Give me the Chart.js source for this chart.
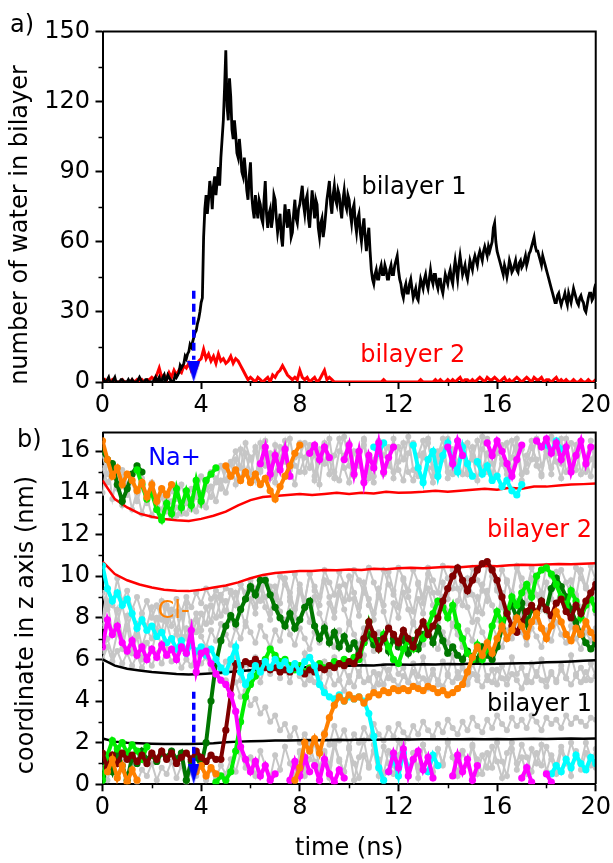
<!DOCTYPE html>
<html>
<head>
<meta charset="utf-8">
<script src="https://cdn.jsdelivr.net/npm/chart.js@4.4.1/dist/chart.umd.min.js"></script>
<style>
  html, body { margin: 0; padding: 0; background: #fff; }
  #page { position: relative; width: 613px; height: 863px; overflow: hidden; }
  #boxA { position: absolute; left: 0; top: 0; width: 613px; height: 425px; }
  #boxB { position: absolute; left: 0; top: 400px; width: 613px; height: 463px; }
</style>
</head>
<body>
<div id="page">
  <div id="boxA"><canvas id="waterChart"></canvas></div>
  <div id="boxB"><canvas id="zChart"></canvas></div>
</div>
<script>
// ---------------- Panel a: water molecules inside each bilayer ----------------
// bilayer 1 sampled every 0.05 ns
const WATER1_STEP = 0.05;
const bilayer1Water = [
  0,1,0,0,1,2,0,0,0,1,2,0,0,0,0,1,1,0,0,0,0,1,0,0,1,0,0,0,0,1,2,1,0,0,0,1,1,0,0,0,0,
  0,1,2,0,1,2,0,0,2,3,0,1,3,2,1,0,0,1,3,2,
  3,4,7,6,7,8,11,10,12,13,16,15,17,19,21,22,25,27,30,34,
  36,62,74,80,72,78,86,82,74,84,88,80,86,92,84,96,104,112,126,142,
  118,112,130,122,108,104,112,106,98,96,104,98,90,88,96,90,82,78,88,94,
  80,74,70,80,74,70,78,76,70,68,78,86,72,66,72,74,66,70,80,78,
  70,64,68,72,62,58,68,76,70,66,74,70,62,64,72,78,70,68,74,76,
  80,84,76,72,78,80,70,66,74,82,76,70,78,76,66,62,68,70,62,66,
  72,78,82,86,76,72,80,84,78,76,82,80,74,70,78,82,76,74,80,78,
  72,68,74,76,68,64,70,72,64,60,66,70,62,56,62,66,56,48,44,42,
  46,48,44,44,48,50,46,46,50,48,44,44,48,50,46,46,50,52,54,48,
  44,42,38,36,40,42,38,38,42,44,40,36,38,40,36,35,40,44,42,40,
  44,46,42,40,44,48,44,42,46,46,42,40,44,44,40,38,42,46,44,42,
  46,48,44,42,48,52,48,44,50,54,50,46,48,50,46,44,48,52,50,48,
  52,54,52,50,54,56,54,52,56,58,56,54,58,56,58,60,66,68,60,56,
  54,52,50,48,46,50,48,45,48,52,50,47,48,50,52,48,47,51,52,49,
  50,52,54,50,52,55,56,58,60,62,58,56,56,54,52,50,54,52,50,48,
  46,44,42,40,38,36,34,34,37,38,35,33,35,36,38,35,33,38,36,34,
  37,40,38,36,34,33,36,37,35,34,31,30,33,36,38,38,35,36,40,42
];
// bilayer 2 sampled every 0.1 ns
const WATER2_STEP = 0.1;
const bilayer2Water = [
  0,1,0,0,1,0,0,0,1,0,0,0,1,0,1,0,1,0,1,1,2,
  1,3,6,2,3,1,4,2,5,3,
  5,4,7,6,8,5,7,6,9,10,
  14,10,12,9,11,8,12,9,10,8,
  9,11,8,10,9,7,5,3,1,2,
  1,0,2,1,0,1,2,0,3,2,
  4,5,7,5,3,2,1,2,1,5,
  2,1,2,0,1,2,0,1,3,5,
  1,2,1,0,0,0,0,0,0,0,
  0,0,0,0,0,0,0,0,0,0,
  0,0,0,1,0,0,0,0,0,0,
  0,0,0,0,0,0,0,0,1,0,
  0,0,0,0,1,0,1,0,0,1,
  0,1,0,1,2,0,1,1,0,1,
  0,1,2,1,0,2,1,1,2,1,
  0,1,2,0,1,0,1,2,1,0,
  1,2,1,0,2,1,1,2,0,1,
  1,0,1,2,0,1,0,1,0,0,
  1,0,0,1,0,0,1,0,0,1
];
// Na+ entry marker (time, dashed span, head centre)
const naEntryTime = 3.7;
const waterArrowSpan = [39, 9.5];
const waterArrowHead = 4.5;

// ---------------- Panel b: z coordinate of bilayer surfaces and ions ----------------
// Bilayer surfaces, 0.5 ns sampling
const SURF_STEP = 0.5;
const bilayer2Upper = [14.6,13.7,13.3,13.0,12.85,12.75,12.68,12.65,12.75,12.9,13.1,13.4,13.65,13.8,13.85,13.9,13.95,13.9,13.95,14.0,13.95,14.0,13.97,14.05,14.0,14.02,14.05,14.1,14.05,14.1,14.15,14.2,14.15,14.25,14.2,14.3,14.3,14.35,14.4,14.42,14.45];
const bilayer2Lower = [10.7,10.1,9.8,9.6,9.45,9.35,9.3,9.28,9.35,9.45,9.55,9.7,9.9,10.05,10.15,10.2,10.25,10.25,10.3,10.28,10.32,10.3,10.35,10.33,10.38,10.4,10.38,10.42,10.45,10.43,10.48,10.5,10.48,10.52,10.55,10.53,10.56,10.58,10.57,10.6,10.62];
const bilayer1Upper = [6.0,5.7,5.55,5.47,5.4,5.35,5.3,5.28,5.3,5.33,5.38,5.43,5.48,5.52,5.56,5.58,5.62,5.63,5.66,5.68,5.7,5.72,5.71,5.75,5.76,5.74,5.77,5.75,5.78,5.77,5.8,5.78,5.79,5.8,5.82,5.83,5.86,5.88,5.9,5.93,5.96];
const bilayer1Lower = [2.2,2.05,2.0,1.97,1.95,1.94,1.93,1.94,1.95,1.97,2.02,2.05,2.07,2.08,2.1,2.1,2.12,2.13,2.12,2.14,2.13,2.15,2.14,2.15,2.16,2.15,2.17,2.16,2.17,2.16,2.18,2.17,2.18,2.17,2.18,2.19,2.18,2.19,2.2,2.19,2.2];

// Ion trajectories, 0.2 ns sampling; each entry is [start time, values]
const ION_STEP = 0.2;
const orangeNa = [
  [0, [16.5,15.6,14.8,15.2,14.4,14.9,14.6,14.1,14.5,13.8,14.4,13.6,14.2,13.9,14.4]],
  [5.0, [15.3,14.8,15.1,14.6,15.0,14.5,14.9,14.4,14.7,14.1,13.7,14.3,14.8,15.3,15.9,16.3]]
];
const orangeCl = [
  [0.2, [0.6,1.2,0.3,0.9,0.1,0.7,0.2]],
  [3.8, [0.6,0.9,0.4,0.8,0.5]],
  [7.8, [0.2,0.8,2.0,1.6,2.2,1.5,2.4,3.2,3.8,4.2,4.0,4.3,4.1,4.2,3.9,4.2,4.4,4.3,4.5,4.4,
         4.6,4.5,4.6,4.5,4.7,4.6,4.5,4.7,4.6,4.4,4.5,4.3,4.4,4.6,4.8,5.4,6.1,6.6,6.2,6.8,
         6.3,7.0,7.6,7.0,7.4,8.0,7.6,7.1,7.8,8.2,7.5,7.0,7.6,8.3,7.8,7.2,6.9,7.5,7.2,7.8,7.3,7.0]]
];
const magentaNa = [
  [6.4, [15.4,16.2,14.9,15.8,15.1,16.1,14.8]],
  [8.4, [15.9,16.3,15.6,16.2,15.7]],
  [9.8, [15.6,16.3,14.9,16.0,14.5,15.8,15.2,16.4,15.0,15.7,16.2]],
  [14.0, [16.2,15.4,16.5,15.8]],
  [15.6, [16.4,15.8,16.5,16.0,15.4,14.8,15.6,16.3]],
  [17.6, [16.5,16.2,16.6,15.9,16.4,15.6,16.2,15.0,15.8,16.5,15.4,16.2]]
];
const magentaCl = [
  [0, [6.6,7.9,7.2,7.6,6.8,6.4,6.9,6.2,6.6,6.0,6.5,6.1,6.7,6.2,6.5,6.0,6.6,6.3,7.4,5.4,
       6.3,6.4,5.8,5.3,5.0,4.8,4.3,3.5,1.8,1.2,0.6,1.1,0.4,0.9,0.2,0.5]],
  [7.6, [0.2,1.1,0.4,1.3,0.6]],
  [8.6, [0.9,0.2,1.2,0.5,0.1,0.7,0.3]],
  [11.6, [0.6,1.5,0.8,1.7,0.4,1.2,1.6,0.7,1.3,0.3]],
  [14.2, [0.4,1.4,0.6,1.2,0.2,0.9]],
  [17.0, [0.3,0.8,0.1]],
  [18.0, [0.5,0.1]]
];
const cyanNa = [
  [11.0, [16.2,15.9,16.4]],
  [12.6, [16.3,15.2,14.5,15.6,16.0,14.8,15.8,16.4,15.5,15.0,16.2,15.4,14.8]],
  [15.2, [15.5,14.9,15.3,14.6,14.8,14.3,14.6,14.1,13.9,14.4]],
  [18.0, [16.3,16.0,16.5,16.1]]
];
const cyanCl = [
  [0, [10.5,9.4,8.8,9.2,8.6,8.9,8.2,7.5,7.9,7.4,7.6,7.1,7.3,6.8,7.0,6.5,6.9,6.3,6.7,6.4,
       6.6,6.2,6.5,6.0,5.6,5.4,6.0,6.6,5.4,4.8,5.2,5.7,5.4,5.9,5.6,6.0,5.7,5.9,5.5,5.8,
       5.4,5.9,6.1,5.7,4.8,4.4,4.2,4.1,4.3,4.0,4.2,4.1,4.2,4.0,3.4,2.3,0.8,0.2]],
  [11.6, [0.6,1.3,0.4,1.5,0.8]],
  [13.2, [0.6,1.4,0.9]],
  [18.2, [0.5,0.9,0.6,1.2,0.8,1.4,1.0,0.7,1.3,1.0]]
];
const darkGreenNa = [
  [0, [16.0,15.6,15.4,14.4,13.6,14.2,14.9,15.3,15.0]]
];
const darkGreenCl = [
  [0, [0.4,1.2,0.6,1.5,0.9,0.2,1.3,1.0,1.6,1.2,1.4,1.1,1.5,1.3,1.6,1.2,1.5,0.2,1.1,1.3,
       0.9,2.0,4.0,5.8,6.9,7.6,8.1,7.7,8.4,8.9,9.5,9.1,9.8,9.8,9.1,8.5,8.0,7.6,8.2,7.5,
       7.9,8.5,8.8,7.6,7.0,7.5,6.8,7.3,6.6,7.1,6.5,6.8,6.3,6.8,7.2,6.7,6.9,7.1,6.4,7.0,
       6.6,7.0,6.3,6.9,6.5,7.2,7.4,6.8,7.5,6.9,6.3,6.6,6.2,6.0,6.4,6.1,6.0,6.6,6.2,6.0,
       6.6,7.5,8.3,8.6,8.0,8.7,7.7,8.4,8.2,8.8,8.4,9.4,9.9,9.5,9.0,8.4,7.8,7.2,6.8,6.5,6.8]]
];
const greenNa = [
  [1.4, [15.1,14.4,13.7,14.0,13.2,12.7,13.5,13.0,14.2,13.3,14.1,13.4,14.6,13.6,14.6,14.9,15.2]]
];
const greenCl = [
  [0, [0.2,1.4,2.1,1.7,2.0,1.5,1.9,1.6,1.2,1.8]],
  [4.6, [0.1,0.4,0.2,0.6,1.6,3.0,4.2,4.8,5.2,5.7,6.0,6.5,6.2,5.9,6.0,5.7,5.5,5.7,5.4,5.6,
         5.5,5.8,5.6,5.7,5.9,5.8,6.0,5.9,6.1,6.0,6.8,7.8,7.0,6.5,7.2,6.6,6.0,5.8,6.5,6.9,
         6.5,7.3,7.0,7.6,8.2,8.8,8.5,8.0,8.6,7.6,7.0,6.3,6.0,6.7,6.0,6.5,7.6,8.3,7.8,8.2,
         9.0,8.6,9.2,9.6,9.0,10.0,10.3,10.4,10.1,9.6,9.0,8.5,9.3,8.8,8.0,8.6,8.9,8.4]]
];
const maroonCl = [
  [0, [1.5,0.8,1.4,1.0,1.5,1.2,1.4,1.1,1.4,1.0,1.5,1.2,1.6,1.2,1.5,1.0,1.3,1.5,1.2,1.6,
       1.3,1.1,1.4,1.2,
       1.2,2.6,4.3,5.8,5.7,5.9,5.8,6.0,5.8,5.6,5.5,5.6,5.4,5.5,5.4,5.6,5.5,5.3,5.5,5.4,
       5.6,5.5,5.7,5.6,5.8,5.7,5.9,5.8,6.2,7.0,7.8,7.2,6.5,7.0,7.5,7.2,6.8,7.4,7.0,6.6,
       7.3,7.8,7.2,7.6,8.0,8.8,9.4,10.0,10.4,9.8,9.3,9.8,10.3,10.6,10.7,10.3,9.8,9.0,8.2,7.6,
       7.3,7.8,8.3,8.6,8.2,8.8,8.4,8.1,8.7,8.9,8.3,8.0,8.6,8.2,8.8,9.2,9.6]]
];
// Remaining ions (grey background trajectories)
const greyTop1 = [
  [0, [15.2,14.5,15.0,14.2,14.8,13.9,14.6,13.6,14.3,13.5,14.0,13.2,13.8,13.1,13.6,12.9,13.4,13.0,13.7,13.1,
       14.0,13.3,14.3,13.6,14.6,14.0,14.8,15.6,14.6,15.9,14.9,16.2,15.1,15.8,14.7,16.3,15.2,16.0,14.8,15.7,
       16.4,15.0,16.1,14.6,15.5,16.4,14.9,15.8,16.6,15.2,14.5,16.0,15.3,16.5,14.7,15.6,16.2,14.9,15.4,16.6,
       15.1,14.6,15.9,16.4,15.0,15.7,16.6,14.8,15.5,16.1,14.7,15.3,16.5,15.8,14.9,16.2,15.4,16.7,15.0,14.6,
       15.9,16.3,15.1,15.7,16.6,14.9,15.4,16.2,15.6,14.8,16.5,15.2,15.9,16.6,15.0,15.5,16.3,14.9,15.7,16.5,15.3]]
];
const greyTop2 = [
  [0, [14.0,15.6,13.7,14.9,13.4,14.4,13.2,14.1,13.0,13.8,12.9,13.5,13.2,13.9,12.8,13.3,13.0,13.6,13.2,13.9,
       13.4,14.2,13.8,14.7,14.2,15.1,15.5,14.4,16.1,15.0,15.7,14.6,16.4,15.3,15.9,14.5,15.6,16.5,15.1,14.4,
       15.8,16.4,15.2,15.9,14.4,16.3,15.6,14.7,16.0,16.7,15.3,14.8,15.7,16.3,15.0,14.5,16.5,15.8,16.2,14.7,
       15.5,16.4,15.0,14.6,15.8,16.5,15.2,14.5,16.0,15.6,16.6,14.9,15.4,16.3,15.0,15.8,14.6,16.1,16.6,15.4,
       14.8,15.6,16.4,15.0,16.2,14.6,15.8,16.5,15.3,14.9,16.0,16.7,15.5,14.7,15.9,16.4,15.1,16.1,15.6,14.8,16.2]]
];
const greyTop3 = [
  [0, [15.8,14.9,15.4,14.6,15.1,14.3,14.9,14.0,14.7,13.9,14.5,13.8,14.2,13.5,14.1,13.7,14.4,13.5,14.2,13.8,
       14.8,14.2,15.0,14.5,15.3,14.6,15.4,16.0,15.2,16.4,15.6,16.0,15.0,16.5,15.4,14.9,16.2,15.5,16.6,15.3,
       15.0,15.7,16.3,14.8,16.1,15.4,16.6,15.0,14.6,15.8,16.4,15.1,15.8,16.6,15.2,14.8,15.9,16.4,15.3,15.0,
       16.2,15.6,16.7,15.1,14.8,15.9,16.4,15.2,15.8,16.6,15.0,16.1,15.5,14.9,16.4,15.6,16.5,15.1,15.9,14.8,
       16.3,15.4,14.9,16.5,15.7,16.1,15.0,15.6,16.6,15.3,15.8,14.9,16.3,15.4,16.6,15.2,15.9,16.5,15.0,15.6,16.0]]
];
const greyMid1 = [
  [0, [9.2,8.4,8.9,7.8,8.6,7.5,8.2,7.2,8.0,7.6,8.5,7.3,8.8,7.9,8.4,7.4,8.1,7.0,7.8,7.3,
       8.2,7.7,8.6,8.0,8.9,8.3,9.2,8.6,9.6,8.9,9.4,8.5,9.8,9.0,8.2,9.5,8.7,9.9,9.2,8.4,
       9.6,8.8,10.1,9.3,8.6,9.8,9.0,8.3,9.5,8.8,10.0,9.2,8.5,9.7,8.9,8.2,9.4,8.6,10.2,9.3,
       8.5,9.8,9.0,8.3,9.6,8.7,10.1,9.2,8.4,9.7,8.9,10.3,9.4,8.6,9.9,9.1,8.3,9.6,8.8,10.2,
       9.3,8.5,9.8,9.0,10.4,9.5,8.7,9.9,9.1,8.4,9.7,8.9,10.2,9.4,8.6,9.8,9.0,10.3,9.5,8.8,9.6]]
];
const greyMid2 = [
  [0, [6.4,7.0,6.2,7.3,6.5,7.6,6.3,7.1,6.0,6.8,6.4,7.4,6.6,7.8,6.9,7.2,6.5,7.5,6.8,7.9,
       7.1,6.6,7.4,6.9,7.7,7.2,6.7,7.5,7.0,7.8,7.3,6.8,7.6,7.1,6.6,7.4,6.9,7.9,7.2,6.7,
       7.5,7.0,6.5,7.3,6.8,7.7,7.1,6.6,7.4,6.9,7.8,7.2,6.7,7.5,7.0,6.4,7.3,6.8,7.6,7.1,
       6.6,7.4,6.9,7.8,7.2,6.7,7.5,7.0,6.5,7.3,6.8,7.7,7.2,6.6,7.4,6.9,7.9,7.3,6.8,7.6,
       7.1,6.6,7.4,7.0,7.8,7.3,6.7,7.5,7.1,6.6,7.4,6.9,7.8,7.2,6.8,7.6,7.0,6.5,7.3,6.9,7.5]]
];
const greyMid3 = [
  [0, [8.0,9.4,8.6,9.9,8.8,9.3,8.4,9.0,8.2,8.8,8.0,8.6,7.9,8.5,8.1,8.9,8.3,9.0,8.5,9.2,
       8.7,9.4,8.9,9.3,9.1,9.4,9.3,8.6,9.6,9.2,9.8,9.4,8.8,9.9,9.5,8.9,10.0,9.6,9.0,10.1,
       9.4,8.8,10.1,9.5,9.0,10.3,9.7,9.1,10.2,9.6,8.9,10.3,9.8,9.2,10.4,9.7,9.0,10.3,9.6,9.1,
       10.4,9.9,9.3,10.3,9.7,9.0,10.4,9.8,9.2,10.5,9.9,9.4,10.3,9.6,9.1,10.4,9.8,9.3,10.5,10.0,
       9.4,10.3,9.7,9.2,10.5,9.9,9.3,10.4,9.8,9.2,10.5,10.0,9.5,10.3,9.7,9.1,10.4,9.9,9.4,10.5,9.8]]
];
const greyMid4 = [
  [0, [6.0,6.6,5.9,6.4,5.8,6.3,5.7,6.2,5.6,6.1,5.7,6.3,5.8,6.5,5.9,6.2,5.6,6.0,5.7,6.3,
       5.8,6.1,5.5,6.0,5.4,5.9,5.6,6.2,5.0,5.8,5.4,6.1,4.9,5.7,5.3,6.0,5.1,5.6,4.9,5.8,
       5.2,6.3,5.0,5.5,4.8,5.9,5.3,6.1,5.0,5.6,4.9,5.8,5.2,6.2,5.0,5.4,4.8,5.7,5.1,6.0,
       5.3,5.6,4.9,5.8,5.2,6.1,5.0,5.5,4.8,5.9,5.3,6.2,5.1,5.6,4.9,5.8,5.2,6.0,5.0,5.5,
       4.8,5.7,5.1,6.1,5.3,5.6,4.9,5.8,5.2,6.0,5.0,5.4,4.9,5.7,5.1,6.2,5.3,5.6,5.0,5.8,5.2]]
];
const greyMid5 = [
  [0, [7.6,8.8,7.2,8.4,7.0,8.1,6.8,7.7,6.6,7.4,7.0,8.0,7.3,8.6,7.6,8.3,7.1,8.7,7.5,8.2,
       7.4,8.5,7.8,9.0,8.1,8.8,7.9,9.2,8.4,7.6,8.9,8.2,9.5,8.5,7.9,9.1,8.3,7.6,8.8,8.0,
       9.3,8.5,7.8,9.0,8.2,7.6,8.7,8.0,9.2,8.4,7.7,8.9,8.1,9.4,8.6,7.9,9.1,8.3,7.5,8.7,
       8.0,9.2,8.4,7.7,8.9,8.2,9.4,8.6,7.8,9.0,8.3,7.6,8.8,9.6,8.5,7.8,9.0,8.2,9.3,8.6,
       7.9,9.2,8.4,7.7,8.8,8.1,9.4,8.6,7.8,9.0,8.3,7.6,8.7,9.5,8.4,7.9,9.1,8.5,7.7,8.9,8.2]]
];
const greyCross = [
  [5.0, [5.0,4.6,4.9,4.2,4.5,3.8,4.1,3.4,3.7,3.0,3.3,2.6,2.9,2.3,2.7,2.0,2.4,1.8,2.2,1.6,
         2.5,1.9,2.8,2.1,2.6,1.8,2.4,2.0,2.7,2.2,2.9,2.4,2.1,2.7,2.3,2.9,2.5,2.2,2.8,2.4,
         3.0,2.6,2.3,2.9,2.5,3.1,2.7,2.4,3.0,2.6,3.2,2.8,2.5,3.1,2.7,3.3,2.9,2.6,3.2,2.8,
         3.1,2.7,3.3,3.0,2.6,3.2,2.9,3.1,2.7,3.3,2.9,3.2,3.0,2.8,3.2,3.1]]
];
const greyBelow = [
  [8.0, [5.2,4.8,5.4,4.9,5.1,4.6,5.3,4.8,5.0,4.5,5.2,4.7,5.4,4.9,5.1,4.6,5.3,4.8,5.5,5.0,
         4.7,5.2,4.9,5.4,4.8,5.1,4.6,5.3,5.0,4.7,5.2,4.9,5.4,5.1,4.8,5.3,5.0,4.7,5.2,4.9,
         5.5,5.1,4.8,5.3,5.0,4.6,5.2,4.9,5.4,5.0,4.7,5.3,5.0,5.5,5.1,4.8,5.2,4.9,5.4,5.0,5.2]]
];
const greyBot1 = [
  [0, [0.8,0.2,1.0,0.4,1.2,0.3,0.9,0.1,0.7,0.4,1.0,0.2,0.8,0.5,1.1,0.3,0.9,0.1,0.6,0.4,
       1.0,0.2,0.7,0.3,0.9,0.5,1.2,0.6,1.5,0.8,1.3,0.4,1.6,0.9,0.3,1.4,0.7,1.8,1.0,0.4,
       1.5,0.8,1.9,1.1,0.5,1.6,0.9,2.0,1.2,0.6,1.7,1.0,0.3,1.4,0.8,1.9,1.2,0.5,1.6,0.9,
       2.1,1.3,0.6,1.5,0.8,1.9,1.1,0.4,1.7,1.0,2.0,1.3,0.6,1.6,0.9,1.8,1.2,0.5,1.5,0.8,
       2.0,1.1,0.4,1.7,1.0,1.9,1.3,0.6,1.5,0.9,1.8,1.2,0.5,1.6,1.0,2.0,1.3,0.7,1.5,0.9,1.7]]
];
const greyBot2 = [
  [8.0, [1.6,0.4,1.2,2.0,0.8,1.5,0.3,1.9,1.1,0.6,1.7,0.2,1.3,2.1,0.9,1.6,0.4,1.8,1.0,0.5,
         1.4,2.0,0.7,1.5,0.3,1.9,1.2,0.6,1.7,0.9,2.1,1.3,0.4,1.6,1.0,1.9,0.5,1.4,0.8,1.8,
         1.1,0.3,1.5,2.0,0.7,1.3,0.5,1.7,1.0,1.9,0.6,1.4,0.9,1.8,1.2,0.4,1.6,1.0,2.0,1.3,0.8]]
];
const zArrowSpan = [4.45, 0.95];
const zArrowHead = 0.48;

// Tick values
const timeTicksMinor = [2, 6, 10, 14, 18];
const waterTicksMinor = [15, 45, 75, 105, 135];
const zTicksMinor = [1, 3, 5, 7, 9, 11, 13, 15];

// ---------------- colours & shared helpers ----------------
const C = {
  orange: '#ff8000', magenta: '#ff00ff', cyan: '#00ffff', darkGreen: '#007700',
  green: '#00ee00', maroon: '#800000', grey: '#c6c6c6', red: '#ff0000', blue: '#0000ff'
};
const FONT = '"DejaVu Sans", sans-serif';
Chart.defaults.font.family = FONT;
Chart.defaults.font.size = 24;
Chart.defaults.color = '#000';

const gridPoints = (vals, step, t0 = 0) => vals.map((v, i) => ({ x: +(t0 + i * step).toFixed(2), y: v }));

function ionDatasets(trace, colour, style, order) {
  return trace.map(([t0, vals]) => ({
    data: gridPoints(vals, ION_STEP, t0),
    showLine: true,
    borderColor: colour,
    backgroundColor: colour,
    borderWidth: style.line,
    pointRadius: style.dot,
    pointBorderWidth: 0,
    pointBackgroundColor: colour,
    order
  }));
}

function arrowHead(w, h) {
  const c = document.createElement('canvas');
  c.width = w; c.height = h;
  const g = c.getContext('2d');
  g.fillStyle = C.blue;
  g.beginPath(); g.moveTo(0, 0); g.lineTo(w, 0); g.lineTo(w / 2, h); g.closePath(); g.fill();
  return c;
}

// frame on top/right, minor ticks, axis title, free text
const decorPlugin = {
  id: 'decor',
  afterDatasetsDraw(chart, args, opts) {
    const { ctx, chartArea: a, scales: { x, y } } = chart;
    ctx.save();
    ctx.strokeStyle = '#000';
    ctx.lineWidth = 2;
    ctx.beginPath();
    ctx.moveTo(a.left, a.top); ctx.lineTo(a.right, a.top); ctx.lineTo(a.right, a.bottom);
    ctx.stroke();
    ctx.lineWidth = 1.5;
    opts.xMinor.forEach(v => {
      const px = Math.round(x.getPixelForValue(v)) + 0.5;
      ctx.beginPath(); ctx.moveTo(px, a.bottom); ctx.lineTo(px, a.bottom + 4); ctx.stroke();
    });
    opts.yMinor.forEach(v => {
      const py = Math.round(y.getPixelForValue(v)) + 0.5;
      ctx.beginPath(); ctx.moveTo(a.left, py); ctx.lineTo(a.left - 4, py); ctx.stroke();
    });
    ctx.font = '24px ' + FONT;
    ctx.textBaseline = 'middle';
    opts.notes.forEach(n => {
      ctx.fillStyle = n.color;
      ctx.textAlign = n.align;
      ctx.fillText(n.text, x.getPixelForValue(n.x), y.getPixelForValue(n.y));
    });
    ctx.fillStyle = '#000';
    ctx.textAlign = 'left';
    ctx.fillText(opts.panel.text, opts.panel.left, opts.panel.top);
    // y-axis title
    ctx.save();
    ctx.translate(opts.yTitle.x, opts.yTitle.y);
    ctx.rotate(-Math.PI / 2);
    ctx.textAlign = 'center';
    ctx.fillText(opts.yTitle.text, 0, 0);
    ctx.restore();
    ctx.restore();
  }
};

function timeAxis(height, title) {
  return {
    type: 'linear', min: 0, max: 20,
    ticks: { stepSize: 4, padding: 2, font: { size: 24 } },
    grid: { drawOnChartArea: false, tickLength: 7, tickWidth: 2, tickColor: '#000' },
    border: { color: '#000', width: 2 },
    title: title ? { display: true, text: title, font: { size: 24 }, padding: { top: 0, bottom: 0 } } : { display: false },
    afterFit(s) { s.height = height; }
  };
}
function valueAxis(min, max, step) {
  return {
    type: 'linear', min, max,
    ticks: { stepSize: step, padding: 5.5, includeBounds: false, font: { size: 24 } },
    grid: { drawOnChartArea: false, tickLength: 7, tickWidth: 2, tickColor: '#000' },
    border: { color: '#000', width: 2 },
    afterFit(s) { s.width = 102.5; }
  };
}

// ---------------- Panel a chart ----------------
new Chart(document.getElementById('waterChart'), {
  type: 'scatter',
  data: {
    datasets: [
      { data: [{ x: naEntryTime, y: waterArrowSpan[0] }, { x: naEntryTime, y: waterArrowSpan[1] }],
        showLine: true, borderColor: C.blue, borderWidth: 3.5, borderDash: [8, 5], pointRadius: 0, order: 0 },
      { data: [{ x: naEntryTime, y: waterArrowHead }], pointStyle: arrowHead(13, 21), pointRadius: 8, order: 0 },
      { label: 'bilayer 1', data: gridPoints(bilayer1Water, WATER1_STEP), showLine: true,
        borderColor: '#000', borderWidth: 2.8, pointRadius: 0, order: 1 },
      { label: 'bilayer 2', data: gridPoints(bilayer2Water, WATER2_STEP), showLine: true,
        borderColor: C.red, borderWidth: 3, pointRadius: 0, order: 2 }
    ]
  },
  options: {
    responsive: true, maintainAspectRatio: false, animation: false, events: [],
    layout: { padding: { top: 31.5, right: 17, left: 0, bottom: 0 } },
    scales: { x: timeAxis(43, null), y: valueAxis(0, 150, 30) },
    plugins: {
      legend: { display: false }, tooltip: { enabled: false },
      decor: {
        xMinor: timeTicksMinor, yMinor: waterTicksMinor,
        notes: [
          { text: 'bilayer 1', color: '#000', align: 'left', x: 10.5, y: 83 },
          { text: 'bilayer 2', color: C.red, align: 'left', x: 10.45, y: 11.1 }
        ],
        panel: { text: 'a)', left: 10, top: 26 },
        yTitle: { text: 'number of water in bilayer', x: 21, y: 225 }
      }
    }
  },
  plugins: [decorPlugin]
});

// ---------------- Panel b chart ----------------
const ionStyle = { line: 4, dot: 3.6 };
const greyStyle = { line: 2, dot: 3 };
const zDatasets = [
  { data: [{ x: naEntryTime, y: zArrowSpan[0] }, { x: naEntryTime, y: zArrowSpan[1] }],
    showLine: true, borderColor: C.blue, borderWidth: 3.5, borderDash: [7, 4], pointRadius: 0, order: 0 },
  { data: [{ x: naEntryTime, y: zArrowHead }], pointStyle: arrowHead(11, 20), pointRadius: 8, order: 0 },
  ...ionDatasets(orangeNa, C.orange, ionStyle, 1),
  ...ionDatasets(orangeCl, C.orange, ionStyle, 1),
  ...ionDatasets(magentaNa, C.magenta, ionStyle, 1),
  ...ionDatasets(magentaCl, C.magenta, ionStyle, 1),
  ...ionDatasets(cyanNa, C.cyan, ionStyle, 1),
  ...ionDatasets(cyanCl, C.cyan, ionStyle, 1),
  ...ionDatasets(maroonCl, C.maroon, ionStyle, 1),
  ...ionDatasets(greenNa, C.green, ionStyle, 1),
  ...ionDatasets(greenCl, C.green, ionStyle, 1),
  ...ionDatasets(darkGreenNa, C.darkGreen, ionStyle, 1),
  ...ionDatasets(darkGreenCl, C.darkGreen, ionStyle, 1),
  ...[bilayer2Upper, bilayer2Lower].map(v => ({ data: gridPoints(v, SURF_STEP), showLine: true,
      borderColor: C.red, borderWidth: 2.5, pointRadius: 0, order: 2 })),
  ...[bilayer1Upper, bilayer1Lower].map(v => ({ data: gridPoints(v, SURF_STEP), showLine: true,
      borderColor: '#000', borderWidth: 2.5, pointRadius: 0, order: 2 })),
  ...[greyTop1, greyTop2, greyTop3, greyMid1, greyMid2, greyMid3, greyMid4, greyMid5,
      greyCross, greyBelow, greyBot1, greyBot2]
      .flatMap(t => ionDatasets(t, C.grey, greyStyle, 3))
];

new Chart(document.getElementById('zChart'), {
  type: 'scatter',
  data: { datasets: zDatasets },
  options: {
    responsive: true, maintainAspectRatio: false, animation: false, events: [],
    layout: { padding: { top: 32.5, right: 17, left: 0, bottom: 0 } },
    scales: { x: timeAxis(78.7, 'time (ns)'), y: valueAxis(0, 16.9, 2) },
    plugins: {
      legend: { display: false }, tooltip: { enabled: false },
      decor: {
        xMinor: timeTicksMinor, yMinor: zTicksMinor,
        notes: [
          { text: 'Na+', color: C.blue, align: 'center', x: 2.92, y: 15.65 },
          { text: 'Cl-', color: C.orange, align: 'center', x: 2.88, y: 8.3 },
          { text: 'bilayer 2', color: C.red, align: 'right', x: 19.85, y: 12.2 },
          { text: 'bilayer 1', color: '#000', align: 'right', x: 19.85, y: 3.82 }
        ],
        panel: { text: 'b)', left: 17, top: 41 },
        yTitle: { text: 'coordinate in z axis (nm)', x: 27, y: 225 }
      }
    }
  },
  plugins: [decorPlugin]
});
</script>
</body>
</html>
